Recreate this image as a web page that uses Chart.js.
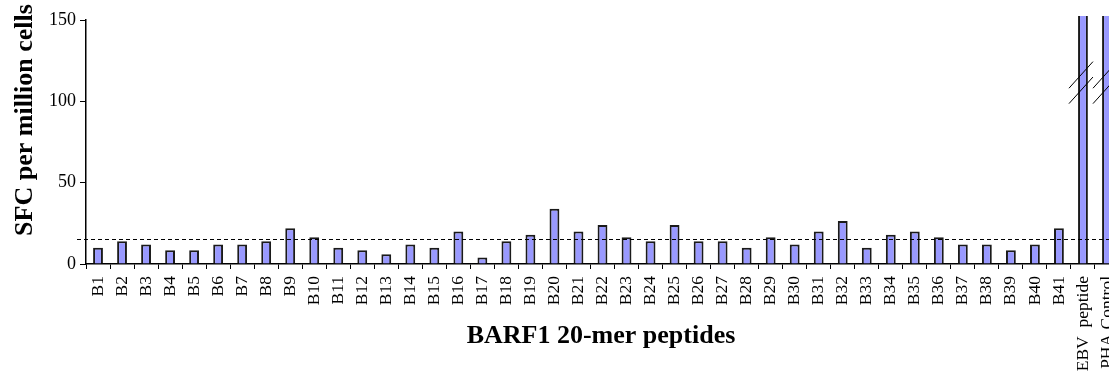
<!DOCTYPE html>
<html>
<head>
<meta charset="utf-8">
<script src="https://cdn.jsdelivr.net/npm/chart.js@4/dist/chart.umd.min.js"></script>
<style>
  html, body { margin: 0; padding: 0; background: #fff; overflow: hidden; }
  #wrap { width: 1109px; height: 380px; overflow: hidden; position: relative; }
  #box { width: 1125px; height: 380px; position: absolute; left: 0; top: 0; }
</style>
</head>
<body>
<div id="wrap"><div id="box"><canvas id="c"></canvas></div></div>
<script>
// Peptide pools tested (BARF1 20-mers plus controls)
const categories = [
  'B1','B2','B3','B4','B5','B6','B7','B8','B9','B10',
  'B11','B12','B13','B14','B15','B16','B17','B18','B19','B20',
  'B21','B22','B23','B24','B25','B26','B27','B28','B29','B30',
  'B31','B32','B33','B34','B35','B36','B37','B38','B39','B40',
  'B41','EBV  peptide','PHA Control'
];

// Spot-forming cells per million cells
const sfcValues = [
  10, 14, 12, 8.5, 8.5, 12, 12, 14, 22, 16.5,
  10, 8.5, 6, 12, 10, 20, 4, 14, 18, 34,
  20, 24, 16.5, 14, 24, 14, 14, 10, 16.5, 12,
  20, 26.5, 10, 18, 20, 16.5, 12, 12, 8.5, 12,
  22, 400, 600
];

// Y axis ticks
const yTicks = [0, 50, 100, 150];

// Positivity cut-off (dashed line)
const cutoff = 15.5;

// Axis is broken on the off-scale control bars at this value
const breakAt = 111.5;
const brokenBars = ['EBV  peptide', 'PHA Control'];

const serif = "'Liberation Serif', 'Times New Roman', serif";

const overlay = {
  id: 'overlay',
  afterDatasetsDraw(chart) {
    const { ctx, chartArea, scales } = chart;
    const y = scales.y, x = scales.x;
    ctx.save();
    // dashed cut-off line
    const yc = Math.round(y.getPixelForValue(cutoff)) + 0.5;
    ctx.strokeStyle = '#000';
    ctx.lineWidth = 1;
    ctx.setLineDash([4, 3]);
    ctx.beginPath();
    ctx.moveTo(chartArea.left - 9, yc);
    ctx.lineTo(chart.width, yc);
    ctx.stroke();
    ctx.setLineDash([]);
    // axis break marks "//"
    const yb = y.getPixelForValue(breakAt);
    brokenBars.forEach(name => {
      const cx = x.getPixelForValue(categories.indexOf(name)) - 2;
      [-7.7, 7.7].forEach(off => {
        ctx.beginPath();
        ctx.moveTo(cx - 12, yb + off + 13.3);
        ctx.lineTo(cx + 12, yb + off - 13.3);
        ctx.stroke();
      });
    });
    ctx.restore();
  },
  afterDraw(chart) {
    const { ctx } = chart;
    ctx.save();
    ctx.fillStyle = '#000';
    ctx.font = "bold 26px " + serif;
    ctx.textAlign = 'center';
    ctx.textBaseline = 'alphabetic';
    ctx.fillText('BARF1 20-mer peptides', 601, 343);
    ctx.translate(32, 120);
    ctx.rotate(-Math.PI / 2);
    ctx.fillText('SFC per million cells', 0, 0);
    ctx.restore();
  }
};

new Chart(document.getElementById('c'), {
  type: 'bar',
  data: {
    labels: categories,
    datasets: [{
      data: sfcValues,
      backgroundColor: '#9999ff',
      borderColor: '#1a1a1a',
      borderWidth: 2,
      barPercentage: 0.41,
      categoryPercentage: 1,
      clip: { left: 0, top: 4, right: 20, bottom: 0 }
    }]
  },
  options: {
    responsive: true,
    maintainAspectRatio: false,
    animation: false,
    events: [],
    layout: { padding: { top: 20, right: 6, left: 0, bottom: 0 } },
    plugins: { legend: { display: false }, tooltip: { enabled: false } },
    scales: {
      x: {
        type: 'category',
        offset: true,
        grid: {
          display: true, drawOnChartArea: false, drawTicks: true,
          tickLength: 5, offset: true, color: '#000', lineWidth: 1
        },
        border: { display: true, color: '#000', width: 1.5 },
        ticks: {
          autoSkip: false, maxRotation: 90, minRotation: 90,
          padding: 7, color: '#000',
          font: { family: serif, size: 17.5 }
        },
        afterFit(scale) { scale.height = 116; scale.paddingLeft = 0; scale.paddingRight = 0; }
      },
      y: {
        min: 0, max: 150,
        afterBuildTicks(scale) { scale.ticks = yTicks.map(v => ({ value: v })); },
        grid: {
          display: true, drawOnChartArea: false, drawTicks: true,
          tickLength: 6, color: '#000', lineWidth: 1
        },
        border: { display: true, color: '#000', width: 1.5 },
        ticks: {
          padding: 4, color: '#000',
          font: { family: serif, size: 18 }
        },
        afterFit(scale) { scale.width = 86; scale.paddingTop = 0; scale.paddingBottom = 0; }
      }
    }
  },
  plugins: [overlay]
});
</script>
</body>
</html>
